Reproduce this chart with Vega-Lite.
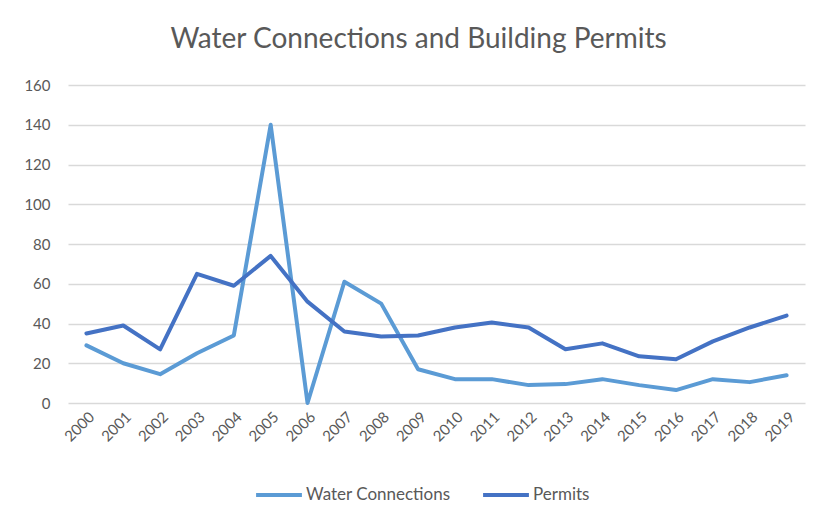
{
  "$schema": "https://vega.github.io/schema/vega-lite/v6.json",
  "autosize": {"type": "none"},
  "padding": {"left": 68, "top": 85, "right": 14, "bottom": 118},
  "width": 737,
  "height": 318,
  "background": "white",
  "title": {
    "text": "Water Connections and Building Permits",
    "font": "Lato",
    "fontSize": 28,
    "fontWeight": "normal",
    "color": "#595959",
    "anchor": "middle",
    "dx": -18,
    "offset": 24
  },
  "data": {
    "values": [
      {"year": "2000", "series": "Water Connections", "value": 29},
      {"year": "2001", "series": "Water Connections", "value": 20},
      {"year": "2002", "series": "Water Connections", "value": 14.5},
      {"year": "2003", "series": "Water Connections", "value": 25},
      {"year": "2004", "series": "Water Connections", "value": 34},
      {"year": "2005", "series": "Water Connections", "value": 140},
      {"year": "2006", "series": "Water Connections", "value": 0},
      {"year": "2007", "series": "Water Connections", "value": 61},
      {"year": "2008", "series": "Water Connections", "value": 50},
      {"year": "2009", "series": "Water Connections", "value": 17},
      {"year": "2010", "series": "Water Connections", "value": 12},
      {"year": "2011", "series": "Water Connections", "value": 12},
      {"year": "2012", "series": "Water Connections", "value": 9},
      {"year": "2013", "series": "Water Connections", "value": 9.5},
      {"year": "2014", "series": "Water Connections", "value": 12},
      {"year": "2015", "series": "Water Connections", "value": 9},
      {"year": "2016", "series": "Water Connections", "value": 6.5},
      {"year": "2017", "series": "Water Connections", "value": 12},
      {"year": "2018", "series": "Water Connections", "value": 10.5},
      {"year": "2019", "series": "Water Connections", "value": 14},
      {"year": "2000", "series": "Permits", "value": 35},
      {"year": "2001", "series": "Permits", "value": 39},
      {"year": "2002", "series": "Permits", "value": 27},
      {"year": "2003", "series": "Permits", "value": 65},
      {"year": "2004", "series": "Permits", "value": 59},
      {"year": "2005", "series": "Permits", "value": 74},
      {"year": "2006", "series": "Permits", "value": 51},
      {"year": "2007", "series": "Permits", "value": 36},
      {"year": "2008", "series": "Permits", "value": 33.5},
      {"year": "2009", "series": "Permits", "value": 34},
      {"year": "2010", "series": "Permits", "value": 38},
      {"year": "2011", "series": "Permits", "value": 40.5},
      {"year": "2012", "series": "Permits", "value": 38},
      {"year": "2013", "series": "Permits", "value": 27},
      {"year": "2014", "series": "Permits", "value": 30},
      {"year": "2015", "series": "Permits", "value": 23.5},
      {"year": "2016", "series": "Permits", "value": 22},
      {"year": "2017", "series": "Permits", "value": 31},
      {"year": "2018", "series": "Permits", "value": 38},
      {"year": "2019", "series": "Permits", "value": 44}
    ]
  },
  "mark": {"type": "line", "strokeWidth": 4, "strokeJoin": "round", "strokeCap": "round"},
  "encoding": {
    "x": {
      "field": "year",
      "type": "ordinal",
      "scale": {"type": "point", "padding": 0.5},
      "axis": {
        "title": null,
        "labelAngle": -45,
        "labelAlign": "right",
        "labelBaseline": "top",
        "labelFont": "Lato",
        "labelFontSize": 15,
        "labelColor": "#595959",
        "ticks": false,
        "domain": false,
        "grid": false,
        "labelPadding": 6
      }
    },
    "y": {
      "field": "value",
      "type": "quantitative",
      "scale": {"domain": [0, 160]},
      "axis": {
        "title": null,
        "values": [0, 20, 40, 60, 80, 100, 120, 140, 160],
        "labelFont": "Lato",
        "labelFontSize": 15,
        "labelColor": "#595959",
        "ticks": false,
        "domain": false,
        "gridColor": "#d9d9d9",
        "gridWidth": 1.5,
        "labelPadding": 18
      }
    },
    "color": {
      "field": "series",
      "type": "nominal",
      "scale": {"domain": ["Water Connections", "Permits"], "range": ["#5B9BD5", "#4472C4"]},
      "legend": {
        "title": null,
        "orient": "none",
        "legendX": 186,
        "legendY": 385,
        "direction": "horizontal",
        "symbolType": "stroke",
        "symbolSize": 2100,
        "symbolStrokeWidth": 4,
        "labelFont": "Lato",
        "labelFontSize": 17,
        "labelColor": "#595959",
        "columnPadding": 24,
        "labelOffset": 2
      }
    }
  },
  "config": {"view": {"stroke": null}}
}
